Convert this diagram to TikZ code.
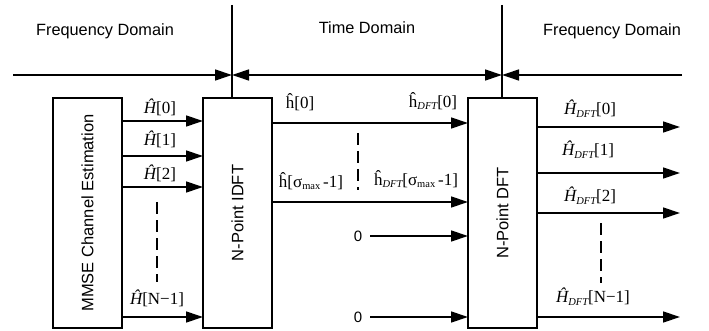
\documentclass[tikz,border=0pt]{standalone}
\usepackage{fontspec}
\setmainfont{Liberation Sans}
\newfontfamily\tnr{Liberation Serif}
\usetikzlibrary{arrows.meta}

% symbol labels in a Times-like serif
\newcommand{\lbl}[1]{{\tnr\fontsize{17}{19}\selectfont #1}}
\newcommand{\Hh}{{\itshape\^H}}
\newcommand{\hh}{\^h}
\newcommand{\sdft}{\raisebox{-0.35ex}{\fontsize{10.5}{11}\selectfont\itshape DFT}}
\newcommand{\smax}{σ\raisebox{-0.35ex}{\fontsize{10.5}{11}\selectfont max}}

\begin{document}
\begin{tikzpicture}[x=1pt,y=-1pt,
  line width=1.3pt,
  tip/.style={-{Triangle[length=17pt,width=11pt]}},
  tipboth/.style={{Triangle[length=17pt,width=11pt]}-{Triangle[length=17pt,width=11pt]}},
  block/.style={draw,rectangle,minimum width=69pt,minimum height=230pt,inner sep=0pt,outer sep=0pt},
  blocktext/.style={font=\fontsize{16.5}{18}\selectfont,rotate=90},
  dom/.style={font=\fontsize{16.3}{18}\selectfont},
  zero/.style={font=\fontsize{15}{17}\selectfont,inner sep=1pt},
  gap/.style={dash pattern=on 12pt off 6pt}]
\useasboundingbox (0,0) rectangle (709,331);

% processing blocks
\node[block] (mmse) at (87.5,213) {};
\node[blocktext] at (mmse.center) {MMSE Channel Estimation};
\node[block] (idft) at (237.5,213) {};
\node[blocktext] at (idft.center) {N-Point IDFT};
\node[block] (dft) at (502.5,213) {};
\node[blocktext] at (dft.center) {N-Point DFT};

% domain headings
\node[dom] (fd1) at (105,31) {Frequency Domain};
\node[dom] (td) at (367,28) {Time Domain};
\node[dom] (fd2) at (612,31) {Frequency Domain};

% domain boundaries
\coordinate (d1) at (232,5);
\coordinate (d2) at (502,5);
\draw (d1) -- (d1 |- idft.north);
\draw (d2) -- (d2 |- dft.north);
\coordinate (lend) at (13,75);
\coordinate (rend) at (682,75);
\draw[tip] (lend) -- (d1 |- lend);
\draw[tipboth] (d1 |- lend) -- (d2 |- lend);
\draw[tip] (rend) -- (d2 |- rend);

% frequency-domain estimates into the IDFT
\foreach \y/\n in {121/a0,156/a1,187/a2,317/a3}{
  \coordinate (\n) at (0,\y);
  \draw[tip] (mmse.east |- \n) -- (idft.west |- \n);
}
\node (la0) at (160,107) {\lbl{\Hh[0]}};
\node (la1) at (160,139) {\lbl{\Hh[1]}};
\node (la2) at (160,173) {\lbl{\Hh[2]}};
\node (la3) at (157,298) {\lbl{\Hh[N−1]}};
\coordinate (ga) at (157,202);
\coordinate (gb) at (157,282);
\draw[gap] (ga) -- (gb);

% time-domain taps into the DFT
\foreach \y/\n in {123/b0,202/b1}{
  \coordinate (\n) at (0,\y);
  \draw[tip] (idft.east |- \n) -- (dft.west |- \n);
}
\node (lb0) at (300,102) {\lbl{\hh[0]}};
\node (lb0d) at (433,101) {\lbl{\hh\sdft[0]}};
\node (lb1) at (311,181) {\lbl{\hh[\smax\,-1]}};
\node (lb1d) at (416,179) {\lbl{\hh\sdft[\smax\,-1]}};
\coordinate (gc) at (358,133);
\coordinate (gd) at (358,190);
\draw[gap] (gc) -- (gd);

% zero padding
\node[zero] (z0) at (358,236) {0};
\node[zero] (z1) at (358,317) {0};
\coordinate (z0s) at (370,236);
\coordinate (z1s) at (370,317);
\draw[tip] (z0s) -- (dft.west |- z0s);
\draw[tip] (z1s) -- (dft.west |- z1s);

% DFT outputs
\foreach \y/\n in {127/c0,173/c1,213/c2,317/c3}{
  \coordinate (\n) at (680,\y);
  \draw[tip] (dft.east |- \n) -- (\n);
}
\node (lc0) at (590,109) {\lbl{\Hh\sdft[0]}};
\node (lc1) at (588,150) {\lbl{\Hh\sdft[1]}};
\node (lc2) at (590,196) {\lbl{\Hh\sdft[2]}};
\node (lc3) at (593,297) {\lbl{\Hh\sdft[N−1]}};
\coordinate (ge) at (601,223);
\coordinate (gf) at (601,283);
\draw[gap] (ge) -- (gf);
\end{tikzpicture}
\end{document}
